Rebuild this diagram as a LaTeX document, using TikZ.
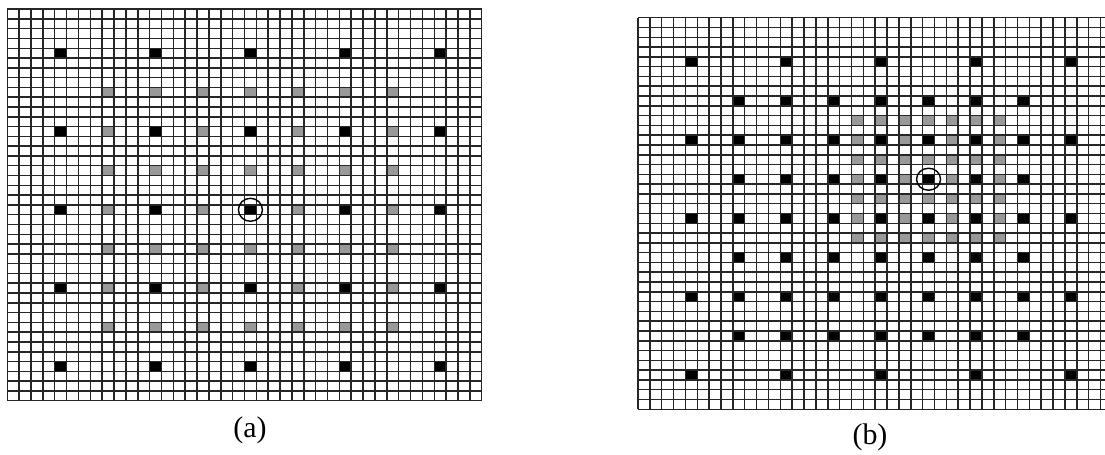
\documentclass[tikz,border=0pt]{standalone}
\usepackage{fontspec}
\setmainfont{Liberation Serif}
\definecolor{linegray}{HTML}{262626}
\definecolor{cellgray}{HTML}{999999}
\tikzset{
  gridline/.style={line width=0.85pt, draw=linegray},
  darkcell/.style={fill=black},
  graycell/.style={fill=cellgray},
  ring/.style={line width=0.8pt, draw=black},
  panellabel/.style={font=\fontsize{17}{20}\selectfont, inner sep=0pt},
}

\begin{document}
\begin{tikzpicture}
\useasboundingbox (0,0) rectangle (22.1,9.08);

% (a), rows counted from the top
\begin{scope}[shift={(0.146cm,1.066cm)}, x=0.2372cm, y=0.1958cm]
\fill[graycell] \foreach \cx in {8,12,...,32} {\foreach \ry in {8,12,...,32} {(\cx,39-\ry) rectangle ++(1,1)}};
\fill[darkcell] \foreach \cx in {4,12,...,36} {\foreach \ry in {4,12,...,36} {(\cx,39-\ry) rectangle ++(1,1)}};
\draw[gridline] \foreach \i in {0,...,40} {(\i,0) -- (\i,40) (0,\i) -- (40,\i)};
\draw[ring] (20.5,19.5) ellipse [x radius=0.24cm, y radius=0.23cm];
\end{scope}

% (b)
\begin{scope}[shift={(12.76cm,0.894cm)}, x=0.2372cm, y=0.1958cm]
\fill[graycell] \foreach \cx in {18,20,...,30} {\foreach \ry in {10,12,...,22} {(\cx,39-\ry) rectangle ++(1,1)}};
\fill[darkcell] \foreach \cx in {8,12,...,32} {\foreach \ry in {8,12,...,32} {(\cx,39-\ry) rectangle ++(1,1)}};
\fill[darkcell] \foreach \cx in {4,12,...,36} {\foreach \ry in {4,12,...,36} {(\cx,39-\ry) rectangle ++(1,1)}};
\draw[gridline] \foreach \i in {0,...,40} {(\i,0) -- (\i,40) (0,\i) -- (40,\i)};
\draw[ring] (24.5,23.5) ellipse [x radius=0.24cm, y radius=0.22cm];
\end{scope}

\node[panellabel] (labela) at (5.0,0.48) {(a)};
\node[panellabel] (labelb) at (17.4,0.34) {(b)};
\end{tikzpicture}
\end{document}
